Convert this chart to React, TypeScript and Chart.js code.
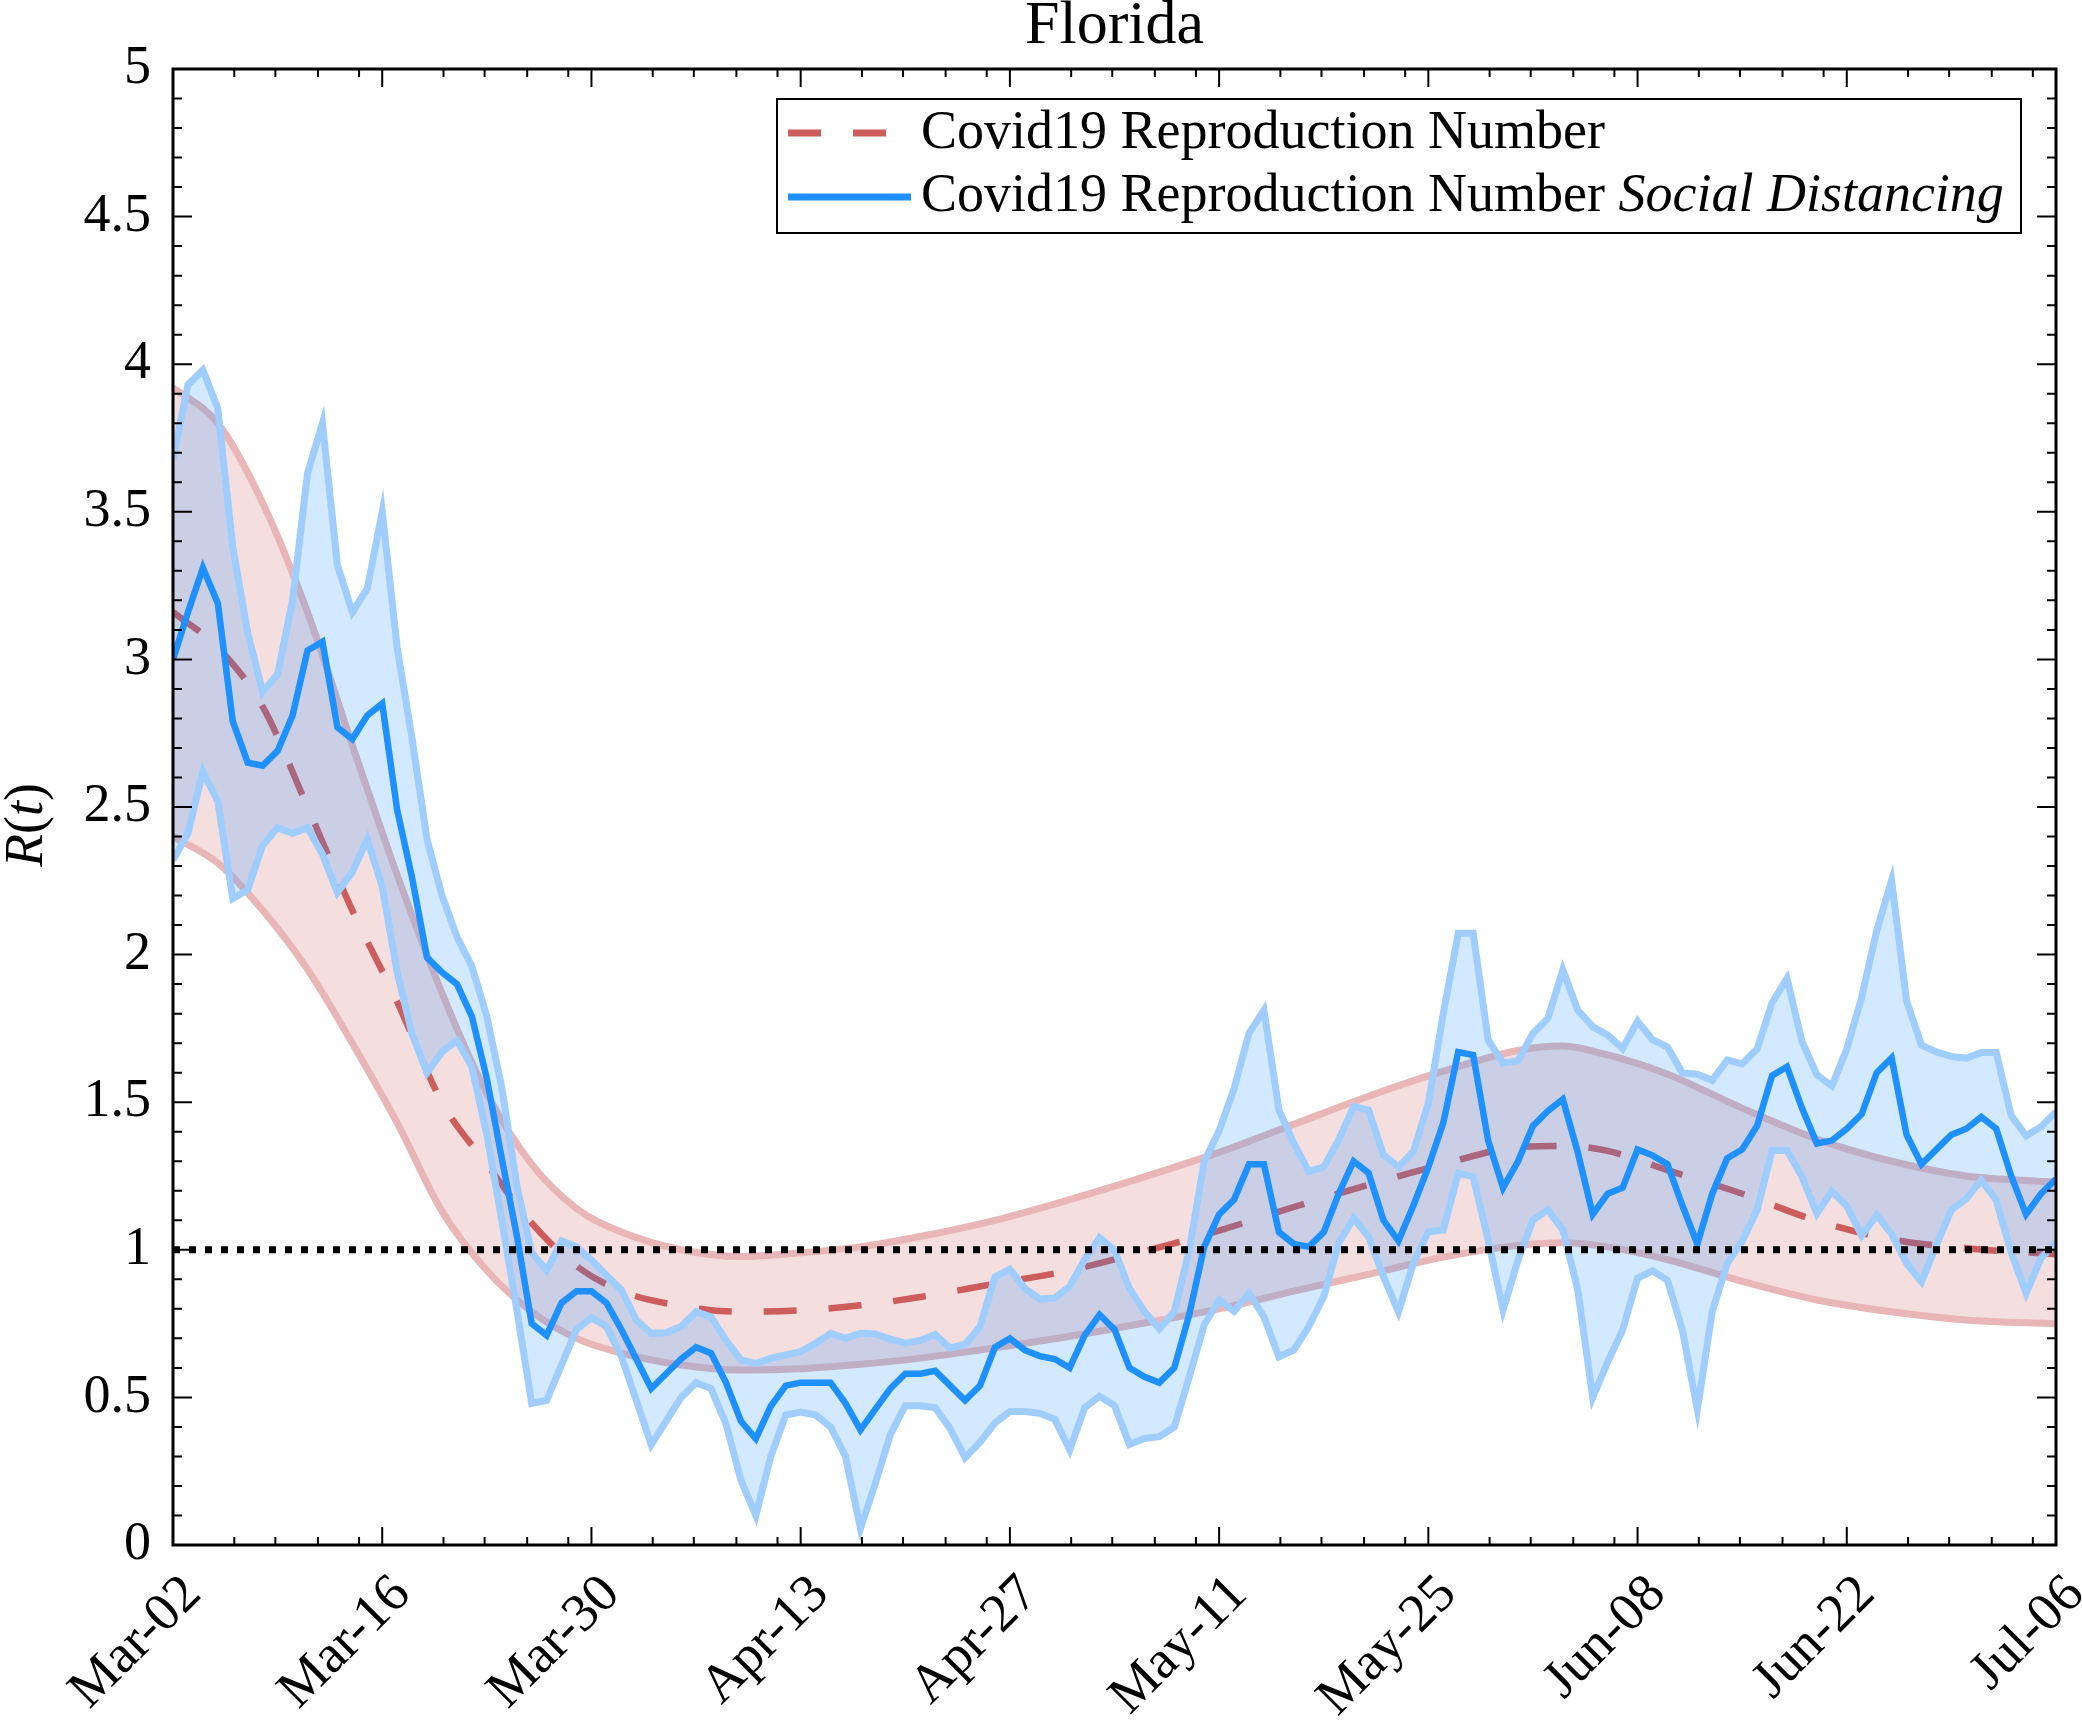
import { useEffect, useRef } from 'react';
import { Chart, LineController, LineElement, PointElement, LinearScale, Filler } from 'chart.js';

Chart.register(LineController, LineElement, PointElement, LinearScale, Filler);

// x axis: days since Mar-02
const TICK_DAYS = [0, 14, 28, 42, 56, 70, 84, 98, 112, 126];
const TICK_LABELS = ['Mar-02', 'Mar-16', 'Mar-30', 'Apr-13', 'Apr-27', 'May-11', 'May-25', 'Jun-08', 'Jun-22', 'Jul-06'];
const MINOR_OFFSETS = [4.1, 6.85, 9.7, 12.45];

// smooth model curve (red), sampled at these days
const RED_DAYS = [0, 3, 6, 9, 12, 15, 18, 21, 24, 27, 30, 34, 38, 42, 46, 50, 55, 60, 65, 70, 75, 80, 85, 90, 93, 96, 100, 105, 110, 115, 120, 126];
const RED_UPPER = [3.92, 3.8, 3.53, 3.16, 2.71, 2.27, 1.87, 1.53, 1.29, 1.14, 1.06, 1.0, 0.977, 0.99, 1.01, 1.045, 1.1, 1.17, 1.247, 1.33, 1.425, 1.52, 1.605, 1.675, 1.69, 1.66, 1.595, 1.48, 1.375, 1.3, 1.25, 1.229];
const RED_LOWER = [2.4, 2.31, 2.15, 1.95, 1.7, 1.43, 1.13, 0.93, 0.79, 0.7, 0.65, 0.61, 0.593, 0.597, 0.612, 0.633, 0.668, 0.707, 0.752, 0.8, 0.86, 0.917, 0.975, 1.015, 1.024, 1.01, 0.967, 0.893, 0.83, 0.79, 0.762, 0.749];
const RED_MEAN = [3.16, 3.04, 2.84, 2.5, 2.15, 1.84, 1.5, 1.29, 1.09, 0.945, 0.86, 0.81, 0.79, 0.795, 0.812, 0.84, 0.885, 0.93, 0.995, 1.065, 1.145, 1.22, 1.29, 1.348, 1.352, 1.335, 1.27, 1.19, 1.098, 1.035, 1.005, 0.985];

// social distancing estimate (blue), one value per day from Mar-02
const BLUE_MEAN = [
  3.0, 3.16, 3.31, 3.19, 2.79, 2.65, 2.64, 2.69, 2.81, 3.03, 3.06, 2.77, 2.73, 2.81, 2.85, 2.49, 2.26, 1.99, 1.94, 1.9,
  1.79, 1.58, 1.31, 1.05, 0.75, 0.71, 0.82, 0.86, 0.86, 0.82, 0.73, 0.63, 0.53, 0.58, 0.63, 0.67, 0.65, 0.55, 0.42, 0.36,
  0.47, 0.54, 0.55, 0.55, 0.55, 0.48, 0.39, 0.46, 0.53, 0.58, 0.58, 0.59, 0.54, 0.49, 0.54, 0.67, 0.7, 0.66, 0.64, 0.63,
  0.6, 0.71, 0.78, 0.73, 0.6, 0.57, 0.55, 0.6, 0.78, 1.01, 1.12, 1.17, 1.29, 1.29, 1.06, 1.02, 1.01, 1.06, 1.19, 1.3,
  1.26, 1.1, 1.03, 1.15, 1.28, 1.43, 1.67, 1.66, 1.37, 1.21, 1.3, 1.42, 1.47, 1.51, 1.33, 1.12, 1.19, 1.21, 1.34, 1.32,
  1.29, 1.15, 1.02, 1.19, 1.31, 1.34, 1.42, 1.59, 1.62, 1.48, 1.36, 1.37, 1.41, 1.46, 1.6, 1.65, 1.39, 1.29, 1.34, 1.39,
  1.41, 1.45, 1.41, 1.25, 1.12, 1.19, 1.24,
];
const BLUE_UPPER = [
  3.68, 3.93, 3.98, 3.85, 3.38, 3.09, 2.89, 2.95, 3.2, 3.63, 3.8, 3.32, 3.16, 3.24, 3.5, 3.04, 2.73, 2.39, 2.2, 2.06,
  1.96, 1.79, 1.55, 1.22, 0.99, 0.93, 1.03, 1.01, 0.965, 0.914, 0.864, 0.762, 0.717, 0.719, 0.74, 0.79, 0.773, 0.694, 0.627, 0.615,
  0.632, 0.644, 0.655, 0.683, 0.717, 0.7, 0.717, 0.715, 0.697, 0.684, 0.693, 0.713, 0.667, 0.68, 0.739, 0.908, 0.934, 0.869, 0.833, 0.837,
  0.876, 0.967, 1.041, 0.999, 0.869, 0.791, 0.732, 0.791, 0.999, 1.299, 1.403, 1.546, 1.734, 1.812, 1.474, 1.361, 1.265, 1.281, 1.372, 1.485,
  1.474, 1.321, 1.281, 1.333, 1.496, 1.801, 2.072, 2.072, 1.711, 1.632, 1.641, 1.733, 1.784, 1.948, 1.812, 1.756, 1.727, 1.682, 1.774, 1.712,
  1.687, 1.599, 1.595, 1.574, 1.643, 1.63, 1.68, 1.837, 1.919, 1.706, 1.593, 1.555, 1.68, 1.856, 2.081, 2.251, 1.843, 1.693, 1.67, 1.655,
  1.649, 1.668, 1.668, 1.455, 1.386, 1.417, 1.467,
];
const BLUE_LOWER = [
  2.32, 2.41, 2.62, 2.52, 2.19, 2.22, 2.37, 2.43, 2.41, 2.43, 2.34, 2.21, 2.28, 2.39, 2.23, 1.94, 1.73, 1.6, 1.67, 1.71,
  1.62, 1.39, 1.1, 0.8, 0.48, 0.49, 0.61, 0.73, 0.77, 0.74, 0.64, 0.49, 0.34, 0.42, 0.5, 0.55, 0.53, 0.41, 0.22, 0.1,
  0.3, 0.44, 0.45, 0.44, 0.4, 0.3, 0.056, 0.21, 0.374, 0.472, 0.472, 0.465, 0.394, 0.296, 0.348, 0.413, 0.452, 0.452, 0.446, 0.426,
  0.322, 0.465, 0.504, 0.472, 0.341, 0.361, 0.367, 0.4, 0.569, 0.745, 0.83, 0.791, 0.853, 0.773, 0.638, 0.661, 0.74, 0.841, 1.022, 1.107,
  1.044, 0.909, 0.79, 0.954, 1.061, 1.067, 1.259, 1.248, 1.033, 0.796, 0.965, 1.101, 1.135, 1.067, 0.864, 0.5, 0.62, 0.728, 0.904, 0.929,
  0.897, 0.728, 0.459, 0.791, 0.954, 1.029, 1.135, 1.336, 1.336, 1.248, 1.123, 1.198, 1.148, 1.048, 1.117, 1.054, 0.954, 0.891, 1.016, 1.135,
  1.173, 1.236, 1.167, 0.991, 0.853, 0.972, 1.023,
];

const THRESHOLD = 1;

const FONT = '"Liberation Serif", "Times New Roman", serif';
const RED = 'rgb(205,92,92)';
const RED_EDGE = 'rgb(232,182,182)';
const RED_FILL = 'rgba(205,92,92,0.2)';
const BLUE = 'rgb(30,144,255)';
const BLUE_EDGE = 'rgb(160,205,255)';
const BLUE_FILL = 'rgba(30,144,255,0.2)';

const daily = (vals: number[]) => vals.map((y, i) => ({ x: i, y }));
const sampled = (days: number[], vals: number[]) => vals.map((y, i) => ({ x: days[i], y }));

// box + inward ticks on all four sides
const framePlugin = {
  id: 'frame',
  afterDatasetsDraw(chart: any) {
    const { ctx, chartArea: a, scales } = chart;
    const x = scales.x;
    const y = scales.y;
    ctx.save();
    ctx.strokeStyle = '#000';
    ctx.lineWidth = 2;
    ctx.beginPath();
    const xTick = (d: number, len: number) => {
      const px = x.getPixelForValue(d);
      ctx.moveTo(px, a.bottom);
      ctx.lineTo(px, a.bottom - len);
      ctx.moveTo(px, a.top);
      ctx.lineTo(px, a.top + len);
    };
    TICK_DAYS.forEach((d) => xTick(d, 18));
    TICK_DAYS.slice(0, -1).forEach((d) => MINOR_OFFSETS.forEach((o) => xTick(d + o, 8)));
    for (let i = 0; i <= 50; i++) {
      const py = y.getPixelForValue(i / 10);
      const len = i % 5 === 0 ? 19 : 9;
      ctx.moveTo(a.left, py);
      ctx.lineTo(a.left + len, py);
      ctx.moveTo(a.right, py);
      ctx.lineTo(a.right - len, py);
    }
    ctx.stroke();
    ctx.lineWidth = 3;
    ctx.strokeRect(a.left, a.top, a.right - a.left, a.bottom - a.top);
    ctx.restore();
  },
};

// title, y label, rotated date labels, legend
const textPlugin = {
  id: 'texts',
  afterDraw(chart: any) {
    const { ctx, chartArea: a, scales } = chart;
    const x = scales.x;
    ctx.save();
    ctx.fillStyle = '#000';

    ctx.font = `62px ${FONT}`;
    ctx.textAlign = 'center';
    ctx.textBaseline = 'alphabetic';
    ctx.fillText('Florida', (a.left + a.right) / 2, 43);

    // R(t)
    const parts: [string, boolean][] = [['R', true], ['(', false], ['t', true], [')', false]];
    const fontFor = (it: boolean) => `${it ? 'italic ' : ''}54px ${FONT}`;
    let total = 0;
    parts.forEach(([s, it]) => {
      ctx.font = fontFor(it);
      total += ctx.measureText(s).width;
    });
    ctx.save();
    ctx.translate(42, 825);
    ctx.rotate(-Math.PI / 2);
    ctx.textAlign = 'left';
    let cx = -total / 2;
    parts.forEach(([s, it]) => {
      ctx.font = fontFor(it);
      ctx.fillText(s, cx, 0);
      cx += ctx.measureText(s).width;
    });
    ctx.restore();

    // x labels
    ctx.font = `54px ${FONT}`;
    ctx.textAlign = 'right';
    ctx.textBaseline = 'middle';
    TICK_DAYS.forEach((d, i) => {
      const px = x.getPixelForValue(d);
      ctx.save();
      ctx.translate(px + 20, a.bottom + 41);
      ctx.rotate(-Math.PI / 4);
      ctx.fillText(TICK_LABELS[i], 0, 0);
      ctx.restore();
    });

    // legend
    const lx = a.right - 1279;
    const ly = a.top + 30;
    const lw = 1244;
    ctx.fillStyle = '#fff';
    ctx.fillRect(lx, ly, lw, 134);
    ctx.strokeStyle = '#000';
    ctx.lineWidth = 2;
    ctx.strokeRect(lx, ly, lw, 134);

    ctx.lineWidth = 7;
    ctx.lineCap = 'butt';
    ctx.strokeStyle = RED;
    ctx.setLineDash([33, 32]);
    ctx.beginPath();
    ctx.moveTo(lx + 11, ly + 34);
    ctx.lineTo(lx + 109, ly + 34);
    ctx.stroke();
    ctx.setLineDash([]);
    ctx.strokeStyle = BLUE;
    ctx.beginPath();
    ctx.moveTo(lx + 11, ly + 98);
    ctx.lineTo(lx + 134, ly + 98);
    ctx.stroke();

    ctx.fillStyle = '#000';
    ctx.textAlign = 'left';
    ctx.textBaseline = 'alphabetic';
    ctx.font = `54px ${FONT}`;
    ctx.fillText('Covid19 Reproduction Number', lx + 144, ly + 49);
    const head = 'Covid19 Reproduction Number ';
    ctx.fillText(head, lx + 144, ly + 112);
    const w = ctx.measureText(head).width;
    ctx.font = `italic 54px ${FONT}`;
    ctx.fillText('Social Distancing', lx + 144 + w, ly + 112);
    ctx.restore();
  },
};

export default function App() {
  const canvasRef = useRef<HTMLCanvasElement>(null);
  const chartRef = useRef<Chart | null>(null);

  useEffect(() => {
    document.body.style.margin = '0';
    if (!canvasRef.current) return;
    if (chartRef.current) chartRef.current.destroy();
    const ctx = canvasRef.current.getContext('2d');
    if (!ctx) return;

    chartRef.current = new Chart(ctx, {
      type: 'line',
      data: {
        datasets: [
          {
            data: [{ x: 0, y: THRESHOLD }, { x: 126, y: THRESHOLD }],
            borderColor: '#000',
            borderWidth: 7,
            borderDash: [7, 9],
            fill: false,
          },
          { data: daily(BLUE_MEAN), borderColor: BLUE, borderWidth: 6.5, fill: false },
          { data: daily(BLUE_LOWER), borderColor: BLUE_EDGE, borderWidth: 7, fill: false },
          { data: daily(BLUE_UPPER), borderColor: BLUE_EDGE, borderWidth: 7, fill: '-1', backgroundColor: BLUE_FILL },
          {
            data: sampled(RED_DAYS, RED_MEAN),
            borderColor: RED,
            borderWidth: 6.5,
            borderDash: [33, 32],
            cubicInterpolationMode: 'monotone',
            fill: false,
          },
          { data: sampled(RED_DAYS, RED_LOWER), borderColor: RED_EDGE, borderWidth: 7, cubicInterpolationMode: 'monotone', fill: false },
          {
            data: sampled(RED_DAYS, RED_UPPER),
            borderColor: RED_EDGE,
            borderWidth: 7,
            cubicInterpolationMode: 'monotone',
            fill: '-1',
            backgroundColor: RED_FILL,
          },
        ],
      },
      options: {
        animation: false,
        responsive: true,
        maintainAspectRatio: false,
        events: [],
        layout: { padding: { top: 69, right: 26, left: 0, bottom: 0 } },
        elements: { point: { radius: 0 }, line: { borderJoinStyle: 'miter' } },
        plugins: { legend: { display: false }, tooltip: { enabled: false } },
        scales: {
          x: {
            type: 'linear',
            min: 0,
            max: 126,
            grid: { display: false },
            border: { display: false },
            ticks: { display: false },
            afterFit: (s: any) => {
              s.height = 181;
            },
          },
          y: {
            type: 'linear',
            min: 0,
            max: 5,
            grid: { display: false },
            border: { display: false },
            ticks: {
              stepSize: 0.5,
              padding: 14,
              color: '#000',
              font: { family: FONT, size: 54 },
              callback: (v: any) => String(v),
            },
            afterFit: (s: any) => {
              s.width = 173;
            },
          },
        },
      },
      plugins: [framePlugin, textPlugin],
    });

    return () => {
      if (chartRef.current) chartRef.current.destroy();
      chartRef.current = null;
    };
  }, []);

  return (
    <div style={{ position: 'relative', width: 2082, height: 1726 }}>
      <canvas ref={canvasRef} />
    </div>
  );
}
